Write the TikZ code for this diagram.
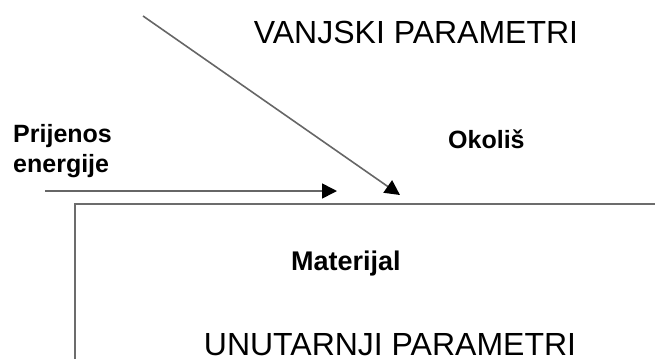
\documentclass[tikz,border=0pt]{standalone}
\usepackage{fontspec}
\setmainfont{Liberation Sans}
\usetikzlibrary{arrows.meta}

\begin{document}
\begin{tikzpicture}[x=1pt,y=-1pt,
  wall/.style={draw=gray!85!black, line width=2pt},
  flow/.style={draw=gray!80!black, line width=1.6pt,
    -{Triangle[length=15pt,width=15pt,color=black]}},
  bigtext/.style={inner sep=0pt, font=\fontsize{32}{38}\selectfont},
  smalltext/.style={inner sep=0pt, font=\bfseries\fontsize{25}{30}\selectfont}]
\useasboundingbox (0,0) rectangle (655,359);
\coordinate (O) at (75,204);
% boundary of the material
\coordinate (Bl) at (75,359);
\coordinate (Br) at (655,204);
\draw[wall] (Bl) -- (O) -- (Br);
% labels
\node[bigtext, anchor=base] (vanjski) at (416,43) {VANJSKI PARAMETRI};
\node[bigtext, anchor=base] (unutarnji) at (390,355) {UNUTARNJI PARAMETRI};
\node[smalltext, anchor=base west, align=left] (prijenos) at (13,172) {Prijenos\\energije};
\node[smalltext, anchor=base west] (okolis) at (448,148) {Okoliš};
\node[smalltext, anchor=base west, font=\bfseries\fontsize{27}{32}\selectfont] (materijal) at (291,270) {Materijal};
% arrows into the surface
\coordinate (Es) at (45,191);
\coordinate (Ee) at (337,191);
\coordinate (Ps) at (143,16);
\coordinate (Pe) at (400,195);
\draw[flow] (Es) -- (Ee);
\draw[flow] (Ps) -- (Pe);
\end{tikzpicture}
\end{document}
